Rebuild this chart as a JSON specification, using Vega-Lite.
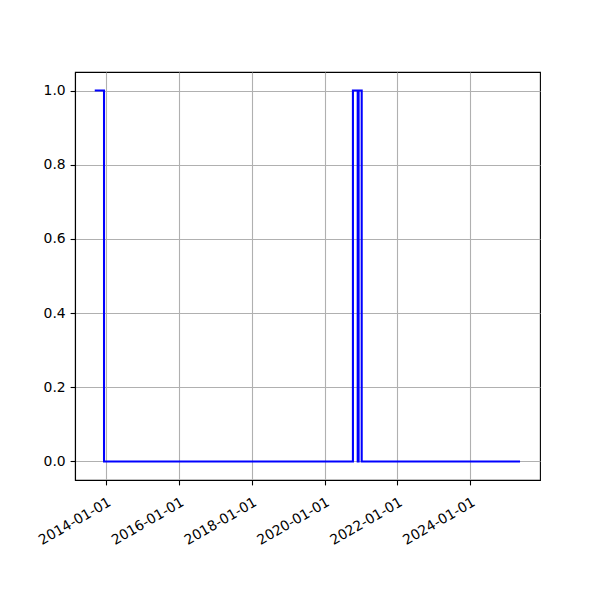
{
  "$schema": "https://vega.github.io/schema/vega-lite/v6.json",
  "width": 465,
  "height": 408,
  "autosize": {"type": "none"},
  "padding": {"left": 75, "top": 72, "right": 60, "bottom": 120},
  "background": "white",
  "config": {
    "view": {"stroke": "black", "strokeWidth": 1.1},
    "font": "DejaVu Sans",
    "axis": {
      "labelFont": "DejaVu Sans",
      "labelFontSize": 13.9,
      "labelColor": "black",
      "labelOverlap": false,
      "labelBound": false,
      "labelFlush": false,
      "domainColor": "black",
      "domainWidth": 1.1,
      "tickColor": "black",
      "tickSize": 4.9,
      "tickWidth": 1.1,
      "gridColor": "#b0b0b0",
      "gridWidth": 1.1,
      "gridOpacity": 1,
      "labelPadding": 4.9,
      "title": null
    }
  },
  "data": {
    "values": [
      {"date": "2013-09-10", "value": 1},
      {"date": "2013-12-12", "value": 0},
      {"date": "2020-10-12", "value": 1},
      {"date": "2020-11-29", "value": 0},
      {"date": "2020-12-08", "value": 1},
      {"date": "2021-01-08", "value": 0},
      {"date": "2025-05-15", "value": 0}
    ]
  },
  "mark": {"type": "line", "interpolate": "step-after", "color": "#0000ff", "strokeWidth": 2.08},
  "encoding": {
    "x": {
      "field": "date",
      "type": "temporal",
      "scale": {"domain": [{"year": 2013, "month": 2, "date": 24}, {"year": 2025, "month": 12, "date": 1}], "nice": false},
      "axis": {
        "values": [
          {"year": 2014, "month": 1, "date": 1},
          {"year": 2016, "month": 1, "date": 1},
          {"year": 2018, "month": 1, "date": 1},
          {"year": 2020, "month": 1, "date": 1},
          {"year": 2022, "month": 1, "date": 1},
          {"year": 2024, "month": 1, "date": 1}
        ],
        "format": "%Y-%m-%d",
        "labelAngle": -30,
        "labelAlign": "right",
        "labelBaseline": "top",
        "labelPadding": 10,
        "grid": true
      }
    },
    "y": {
      "field": "value",
      "type": "quantitative",
      "scale": {"domain": [-0.05, 1.05], "nice": false, "zero": false},
      "axis": {"values": [0, 0.2, 0.4, 0.6, 0.8, 1.0], "format": ".1f", "grid": true}
    }
  }
}
